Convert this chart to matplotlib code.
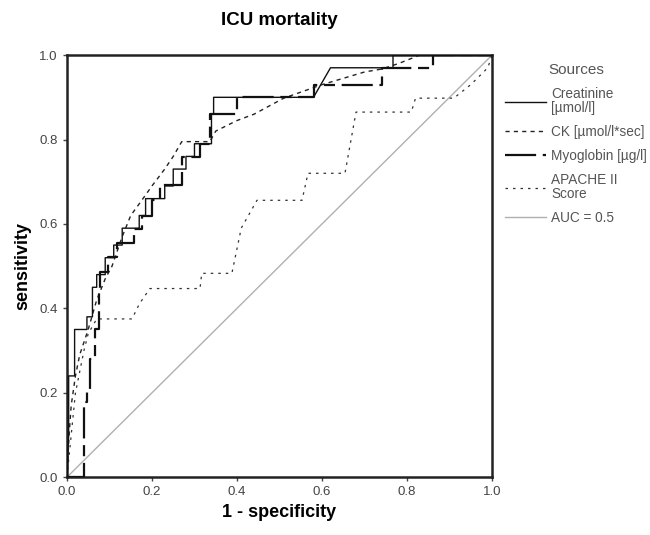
import matplotlib
matplotlib.use('Agg')
import matplotlib.pyplot as plt

plt.rcParams['font.family'] = ['Liberation Sans', 'DejaVu Sans']

# ROC data (1 - specificity, sensitivity)
creat_fpr = [0, 0.004, 0.004, 0.018, 0.018, 0.047, 0.047, 0.06, 0.06, 0.07, 0.07, 0.09, 0.09,
             0.11, 0.11, 0.13, 0.13, 0.17, 0.17, 0.185, 0.185, 0.23, 0.23, 0.25, 0.25, 0.28,
             0.28, 0.30, 0.30, 0.34, 0.34, 0.345, 0.345, 0.58, 0.62, 0.767, 0.767, 1.0]
creat_tpr = [0, 0.10, 0.24, 0.24, 0.35, 0.35, 0.38, 0.38, 0.45, 0.45, 0.48, 0.48, 0.52,
             0.52, 0.55, 0.55, 0.59, 0.59, 0.62, 0.62, 0.66, 0.66, 0.69, 0.69, 0.73, 0.73,
             0.76, 0.76, 0.79, 0.79, 0.86, 0.86, 0.90, 0.90, 0.97, 0.97, 1.0, 1.0]

ck_fpr = [0, 0.005, 0.01, 0.02, 0.03, 0.05, 0.07, 0.09, 0.106, 0.13, 0.15, 0.176, 0.20, 0.23,
          0.25, 0.27, 0.336, 0.35, 0.40, 0.44, 0.51, 0.60, 0.70, 0.74, 0.78, 0.83, 1.0]
ck_tpr = [0, 0.10, 0.17, 0.24, 0.29, 0.35, 0.42, 0.47, 0.50, 0.57, 0.62, 0.656, 0.69, 0.73,
          0.76, 0.795, 0.795, 0.82, 0.845, 0.86, 0.898, 0.93, 0.96, 0.967, 0.98, 1.0, 1.0]

myo_fpr = [0, 0.039, 0.039, 0.047, 0.047, 0.055, 0.055, 0.066, 0.066, 0.075, 0.075, 0.078,
           0.078, 0.096, 0.096, 0.118, 0.118, 0.157, 0.157, 0.176, 0.176, 0.20, 0.20, 0.219,
           0.219, 0.27, 0.27, 0.313, 0.313, 0.336, 0.336, 0.40, 0.40, 0.58, 0.58, 0.74,
           0.74, 0.86, 0.86, 1.0]
myo_tpr = [0, 0, 0.178, 0.178, 0.21, 0.21, 0.28, 0.28, 0.35, 0.35, 0.447, 0.447,
           0.486, 0.486, 0.522, 0.522, 0.554, 0.554, 0.587, 0.587, 0.62, 0.62, 0.656, 0.656,
           0.692, 0.692, 0.759, 0.759, 0.79, 0.79, 0.86, 0.86, 0.90, 0.90, 0.93, 0.93,
           0.97, 0.97, 1.0, 1.0]

apache_fpr = [0, 0.01, 0.02, 0.03, 0.04, 0.05, 0.07, 0.153, 0.17, 0.195, 0.313, 0.317, 0.388,
              0.41, 0.447, 0.553, 0.567, 0.654, 0.68, 0.81, 0.82, 0.91, 0.95, 0.99, 1.0]
apache_tpr = [0, 0.10, 0.20, 0.25, 0.30, 0.34, 0.375, 0.375, 0.41, 0.447, 0.447, 0.483, 0.483,
              0.59, 0.656, 0.656, 0.72, 0.72, 0.865, 0.865, 0.898, 0.898, 0.93, 0.97, 1.0]

ref_line = [0, 1]

ticks = [0.0, 0.2, 0.4, 0.6, 0.8, 1.0]

fig = plt.figure(figsize=(6.5, 5.35), dpi=100)
ax = fig.add_axes([0.103, 0.108, 0.654, 0.789])

ax.plot(ref_line, ref_line, color='#b0b0b0', lw=1.0, label='AUC = 0.5', zorder=1)
ax.plot(apache_fpr, apache_tpr, color='#333333', lw=0.9, dashes=(2, 4),
        label='APACHE II\nScore', zorder=2)
ax.plot(ck_fpr, ck_tpr, color='#222222', lw=1.0, dashes=(3, 3),
        label='CK [µmol/l*sec]', zorder=3)
ax.plot(myo_fpr, myo_tpr, color='#111111', lw=1.6, dashes=(14, 3, 5, 3),
        label='Myoglobin [µg/l]', zorder=4)
ax.plot(creat_fpr, creat_tpr, color='#111111', lw=1.0,
        label='Creatinine\n[µmol/l]', zorder=5)

ax.set_xlim(0, 1)
ax.set_ylim(0, 1)
ax.set_xticks(ticks)
ax.set_yticks(ticks)
ax.set_xticklabels([f'{t:.1f}' for t in ticks])
ax.set_yticklabels([f'{t:.1f}' for t in ticks])
ax.tick_params(direction='out', length=3, width=1, labelsize=9.5, colors='#444444')
for s in ax.spines.values():
    s.set_linewidth(1.8)
    s.set_color('#222222')

ax.set_xlabel('1 - specificity', fontsize=13, fontweight='bold', labelpad=4)
ax.set_ylabel('sensitivity', fontsize=13, fontweight='bold', labelpad=6)
ax.set_title('ICU mortality', fontsize=13.5, fontweight='bold', pad=22)

h, l = ax.get_legend_handles_labels()
order = [4, 2, 3, 1, 0]
leg = fig.legend([h[i] for i in order], [l[i] for i in order],
                 loc='upper left', bbox_to_anchor=(0.758, 0.905),
                 frameon=False, fontsize=9.8, title='Sources', title_fontsize=11,
                 handlelength=3.0, handletextpad=0.4, labelspacing=0.75)
for t in leg.get_texts():
    t.set_color('#555555')
    t.set_linespacing(0.95)
leg.get_title().set_color('#555555')

fig.savefig('out.png', dpi=100)
